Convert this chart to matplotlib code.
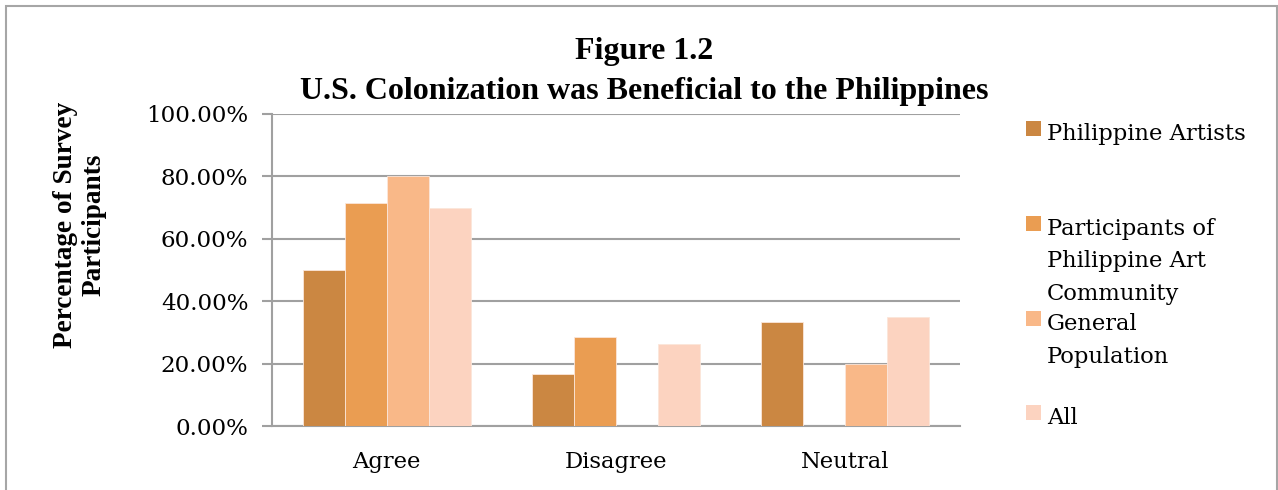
import matplotlib
matplotlib.use("Agg")
import matplotlib.pyplot as plt
from matplotlib.patches import Rectangle
import numpy as np

categories = ["Agree", "Disagree", "Neutral"]
series_names = ["Philippine Artists", "Participants of\nPhilippine Art\nCommunity",
                "General\nPopulation", "All"]
philippine_artists = [50.00, 16.67, 33.33]
art_community = [71.43, 28.57, 0.00]
general_population = [80.00, 0.00, 20.00]
all_participants = [69.77, 26.19, 34.88]
yticks = [0, 20, 40, 60, 80, 100]
ytick_labels = ["0.00%", "20.00%", "40.00%", "60.00%", "80.00%", "100.00%"]

colors = ["#CB8742", "#EA9D52", "#F9B888", "#FCD3C0"]
values = [philippine_artists, art_community, general_population, all_participants]

W, H = 1278, 490
fig = plt.figure(figsize=(W / 100, H / 100), dpi=100)
fig.patch.set_facecolor("white")

serif = ["DejaVu Serif"]
titlefont = ["Liberation Serif"]

ax = fig.add_axes([272 / W, 1 - 426 / H, (960 - 272) / W, (426 - 114) / H])
x = np.arange(len(categories))
bw = 0.183
for i, (vals, c) in enumerate(zip(values, colors)):
    ax.bar(x + (i - 1.5) * bw, vals, width=bw, color=c, edgecolor="#FBE6DA",
           linewidth=0.6, zorder=3)

ax.set_xlim(-0.5, 2.5)
ax.set_ylim(0, 100)
ax.set_yticks(yticks)
ax.set_yticklabels(ytick_labels, fontfamily=serif, fontsize=16.6)
ax.set_xticks(x)
ax.set_xticklabels(categories, fontfamily=serif, fontsize=16.3)
ax.tick_params(axis="y", length=7, width=1.5, color="#A0A0A0", pad=10)
ax.tick_params(axis="x", length=0, pad=18)
ax.grid(axis="y", color="#A0A0A0", linewidth=1.5, zorder=0)
for s in ["top", "right"]:
    ax.spines[s].set_visible(False)
for s in ["left", "bottom"]:
    ax.spines[s].set_color("#A0A0A0")
    ax.spines[s].set_linewidth(1.5)

fig.text(644 / W, 1 - 51 / H, "Figure 1.2", ha="center", va="center",
         fontfamily=titlefont, fontweight="bold", fontsize=23)
fig.text(644 / W, 1 - 91 / H, "U.S. Colonization was Beneficial to the Philippines",
         ha="center", va="center", fontfamily=titlefont, fontweight="bold", fontsize=23)

fig.text(80 / W, 1 - 225 / H, "Percentage of Survey\nParticipants", ha="center",
         va="center", rotation=90, fontfamily=titlefont, fontweight="bold",
         fontsize=19.6, linespacing=1.2)

# legend (first-line baselines, pixels from top)
leg_base = [140, 235, 330, 424]
line_step = 32.5
for name, c, yy in zip(series_names, colors, leg_base):
    fig.patches.append(Rectangle((1026 / W, 1 - (yy - 4) / H), 15 / W, 15 / H,
                                 transform=fig.transFigure, facecolor=c,
                                 edgecolor="none"))
    for k, line in enumerate(name.split("\n")):
        fig.text(1047 / W, 1 - (yy + k * line_step) / H, line, ha="left",
                 va="baseline", fontfamily=serif, fontsize=16.3)

fig.patches.append(Rectangle((6 / W, -0.05), (1277 - 6) / W, 1.05 - 6 / H,
                             transform=fig.transFigure, facecolor="none",
                             edgecolor="#A6A6A6", linewidth=1.5))

fig.savefig("out.png", dpi=100)
